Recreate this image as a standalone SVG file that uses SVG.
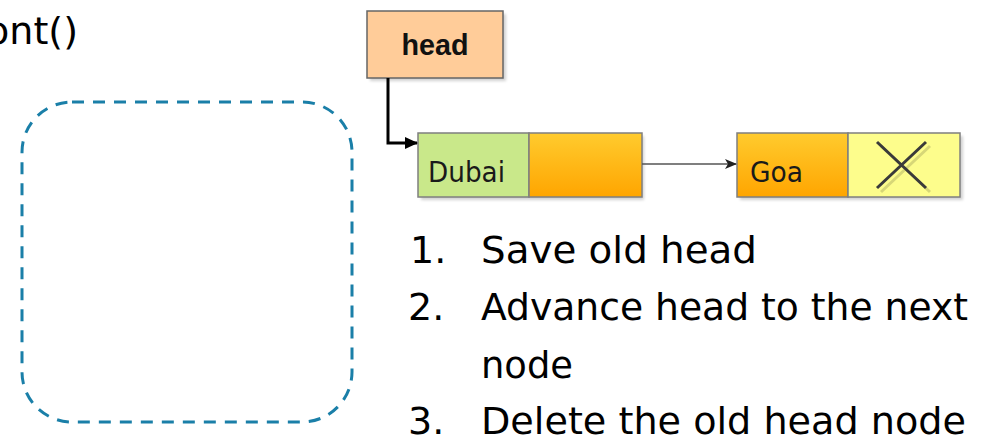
<svg xmlns="http://www.w3.org/2000/svg" width="981" height="440" viewBox="0 0 981 440">
<style>
.big{font-family:"DejaVu Sans","Liberation Sans",sans-serif;font-size:38px;fill:#000}
.lbl{font-family:"DejaVu Sans","Liberation Sans",sans-serif;font-size:28px;fill:#1a1a1a}
.cell{stroke:#7f7f7f;stroke-width:1.5}
.shadow{fill:#000;opacity:0.18}
</style>
<defs>
<linearGradient id="og" x1="0" y1="0" x2="0" y2="1">
<stop offset="0" stop-color="#ffcb2e"/>
<stop offset="1" stop-color="#ffa500"/>
</linearGradient>
<filter id="blur" x="-10%" y="-10%" width="130%" height="140%"><feGaussianBlur stdDeviation="1.5"/></filter>
<marker id="ah" markerWidth="13" markerHeight="12" refX="12" refY="6" orient="auto" markerUnits="userSpaceOnUse">
<path d="M0,0 L13,6 L0,12 z" fill="#000"/>
</marker>
<marker id="ah2" markerWidth="12" markerHeight="10" refX="11" refY="5" orient="auto" markerUnits="userSpaceOnUse">
<path d="M0,0 L12,5 L0,10 L3,5 z" fill="#222"/>
</marker>
</defs>

<text class="big" x="78" y="44" text-anchor="end">ont()</text>

<rect id="dashbox" x="22" y="102" width="330" height="320" rx="50" ry="50" fill="none" stroke="#1a7fa8" stroke-width="3" stroke-dasharray="12,9"/>

<g id="head">
<rect x="370" y="14" width="136" height="67" class="shadow" filter="url(#blur)"/>
<rect x="367" y="11" width="136" height="67" fill="#ffcc99" stroke="#666" stroke-width="1.5"/>
<text x="435" y="55" text-anchor="middle" font-family="'Liberation Sans',Arial,sans-serif" font-weight="bold" font-size="29" fill="#111" textLength="67" lengthAdjust="spacingAndGlyphs">head</text>
</g>

<g id="dubai">
<rect x="421" y="136" width="223" height="64" class="shadow" filter="url(#blur)"/>
<rect x="418" y="133" width="111" height="64" fill="#c9e88a" class="cell"/>
<rect x="529" y="133" width="113" height="64" fill="url(#og)" class="cell"/>
<text class="lbl" x="428" y="182" textLength="77" lengthAdjust="spacingAndGlyphs">Dubai</text>
</g>

<g id="goa">
<rect x="740" y="136" width="223" height="64" class="shadow" filter="url(#blur)"/>
<rect x="737" y="133" width="111" height="64" fill="url(#og)" class="cell"/>
<rect x="848" y="133" width="112" height="64" fill="#fdfd8c" class="cell"/>
<text class="lbl" x="750" y="182" textLength="53" lengthAdjust="spacingAndGlyphs">Goa</text>
<path d="M879,144 L928,190 M928,144 L879,190" stroke="#000" stroke-opacity="0.15" stroke-width="3" fill="none" transform="translate(2,2)"/>
<path d="M877,142 L926,188 M926,142 L877,188" stroke="#3a3a3a" stroke-width="3" fill="none"/>
</g>

<g id="connectors">
<path d="M388,78 L388,143 L417,143" fill="none" stroke="#000" stroke-width="3" marker-end="url(#ah)"/>
<line x1="642" y1="164" x2="736" y2="164" stroke="#555" stroke-width="1.5" marker-end="url(#ah2)"/>
</g>

<g id="steps">
<text class="big" x="410" y="263">1.</text>
<text class="big" x="481" y="263" textLength="276" lengthAdjust="spacingAndGlyphs">Save old head</text>
<text class="big" x="408" y="320">2.</text>
<text class="big" x="481" y="320" textLength="487" lengthAdjust="spacingAndGlyphs">Advance head to the next</text>
<text class="big" x="481" y="378" textLength="92" lengthAdjust="spacingAndGlyphs">node</text>
<text class="big" x="408" y="434">3.</text>
<text class="big" x="481" y="434" textLength="485" lengthAdjust="spacingAndGlyphs">Delete the old head node</text>
</g>
</svg>
